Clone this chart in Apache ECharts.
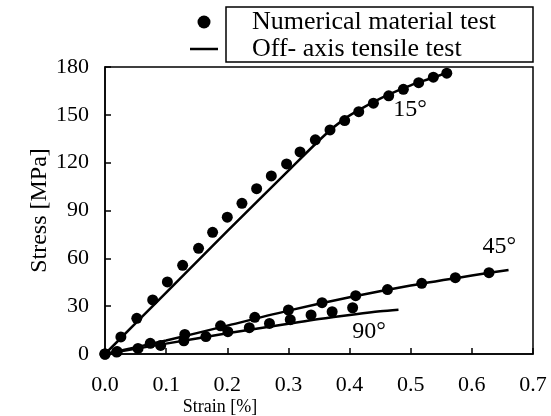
<!DOCTYPE html>
<html>
<head>
<meta charset="utf-8">
<script src="https://cdn.jsdelivr.net/npm/echarts@6/dist/echarts.min.js"></script>
<style>
  html, body { margin: 0; padding: 0; background: #fff; }
  #chart { width: 551px; height: 416px; }
</style>
</head>
<body>
<div id="chart"></div>
<script>
// numerical material test (dots)
var strain15Num = [0, 0.026, 0.052, 0.078, 0.102, 0.127, 0.153, 0.176, 0.200, 0.224, 0.248, 0.272, 0.297, 0.319, 0.344, 0.368, 0.392, 0.415, 0.439, 0.464, 0.488, 0.513, 0.537, 0.559];
var stress15Num = [0, 10.7, 22.4, 33.9, 45.2, 55.6, 66.3, 76.3, 85.8, 94.5, 103.7, 111.7, 119.2, 126.7, 134.3, 140.5, 146.4, 152, 157.3, 161.9, 166, 170.2, 173.6, 176.1];
var strain45Num = [0, 0.02, 0.074, 0.1305, 0.189, 0.245, 0.300, 0.355, 0.41, 0.462, 0.518, 0.573, 0.628];
var stress45Num = [0, 1.5, 6.7, 12.3, 17.7, 23, 27.6, 32.2, 36.6, 40.4, 44.3, 47.9, 51];
var strain90Num = [0, 0.019, 0.054, 0.091, 0.129, 0.165, 0.201, 0.236, 0.269, 0.303, 0.337, 0.3715, 0.405];
var stress90Num = [0, 1.2, 3.5, 5.4, 8.3, 10.9, 14, 16.5, 19.2, 21.5, 24.5, 26.5, 29];

// off-axis tensile test (lines)
var strain15Line = [0, 0.1, 0.2, 0.3, 0.36, 0.39, 0.42, 0.46, 0.5, 0.53, 0.56];
var stress15Line = [0, 38.5, 77, 115, 137.5, 147, 154, 162, 168.5, 172.5, 176.5];
var strain45Line = [0, 0.1, 0.2, 0.3, 0.4, 0.5, 0.6, 0.66];
var stress45Line = [0, 8.5, 17.8, 27.2, 35.6, 43, 49.3, 52.7];
var strain90Line = [0, 0.1, 0.2, 0.3, 0.35, 0.41, 0.45, 0.48];
var stress90Line = [0, 6.5, 13, 19, 22, 25, 26.8, 27.8];

// angle labels: [strain, stress, text]
var angleLabels = [[0.499, 153, "15°"], [0.645, 67, "45°"], [0.432, 14, "90°"]];

var xTicks = [0, 0.1, 0.2, 0.3, 0.4, 0.5, 0.6, 0.7];
var yTicks = [0, 30, 60, 90, 120, 150, 180];

var font = "'Liberation Serif', 'Times New Roman', serif";

function pairs(xs, ys) {
  return xs.map(function (x, i) { return [x, ys[i]]; });
}

var chart = echarts.init(document.getElementById("chart"), null, { renderer: "canvas" });

function dots(xs, ys) {
  return {
    name: "Numerical material test",
    type: "scatter",
    data: pairs(xs, ys),
    symbol: "circle",
    symbolSize: 11,
    itemStyle: { color: "#000", opacity: 1 },
    z: 3
  };
}
function curve(xs, ys, lab) {
  return {
    name: "Off- axis tensile test",
    type: "line",
    data: pairs(xs, ys),
    symbol: "none",
    smooth: 0.3,
    lineStyle: { color: "#000", width: 2.5 },
    itemStyle: { color: "#000" },
    markPoint: {
      symbol: "circle",
      symbolSize: 0,
      label: {
        show: true,
        position: "inside",
        formatter: lab[2],
        color: "#000",
        fontFamily: font,
        fontSize: 24
      },
      data: [{ coord: [lab[0], lab[1]] }]
    },
    z: 2
  };
}

var option = {
  animation: false,
  backgroundColor: "#fff",
  color: ["#000"],
  grid: {
    left: 105, right: 18, top: 67, bottom: 62,
    outerBoundsMode: "none",
    containLabel: false,
    show: true, borderColor: "#000", borderWidth: 1.5,
    backgroundColor: "transparent"
  },
  legend: {
    orient: "vertical",
    left: 190,
    top: 9,
    padding: 0,
    itemGap: 1,
    itemWidth: 28,
    itemHeight: 13,
    selectedMode: false,
    textStyle: { fontFamily: font, fontSize: 26, color: "#000", padding: [0, 0, 0, 29] },
    data: [
      { name: "Numerical material test", icon: "circle" },
      { name: "Off- axis tensile test", icon: "path://M0,0L28,0L28,2.5L0,2.5Z" }
    ]
  },
  graphic: [{
    type: "rect",
    shape: { x: 226, y: 7, width: 307, height: 55 },
    style: { fill: null, stroke: "#000", lineWidth: 1.5 },
    z: 0
  }],
  xAxis: {
    type: "value",
    min: xTicks[0],
    max: xTicks[xTicks.length - 1],
    interval: 0.1,
    name: "Strain [%]",
    nameLocation: "middle",
    nameGap: 44,
    nameMoveOverlap: false,
    nameTextStyle: { fontFamily: font, fontSize: 18, color: "#000", padding: [0, 198, 0, 0] },
    axisLine: { lineStyle: { color: "#000", width: 1.5 } },
    axisTick: { inside: true, length: 6, lineStyle: { color: "#000", width: 1.5 } },
    splitLine: { show: false },
    axisLabel: {
      color: "#000", fontFamily: font, fontSize: 22, margin: 20,
      formatter: function (v) { return v.toFixed(1); }
    }
  },
  yAxis: {
    type: "value",
    min: yTicks[0],
    max: yTicks[yTicks.length - 1],
    interval: 30,
    name: "Stress [MPa]",
    nameLocation: "middle",
    nameGap: 53,
    nameMoveOverlap: false,
    nameTextStyle: { fontFamily: font, fontSize: 24, color: "#000" },
    axisLine: { lineStyle: { color: "#000", width: 1.5 } },
    axisTick: { inside: true, length: 6, lineStyle: { color: "#000", width: 1.5 } },
    splitLine: { show: false },
    axisLabel: { color: "#000", fontFamily: font, fontSize: 22, margin: 16 }
  },
  series: [
    dots(strain15Num, stress15Num),
    dots(strain45Num, stress45Num),
    dots(strain90Num, stress90Num),
    curve(strain15Line, stress15Line, angleLabels[0]),
    curve(strain45Line, stress45Line, angleLabels[1]),
    curve(strain90Line, stress90Line, angleLabels[2])
  ]
};

chart.setOption(option);
</script>
</body>
</html>
